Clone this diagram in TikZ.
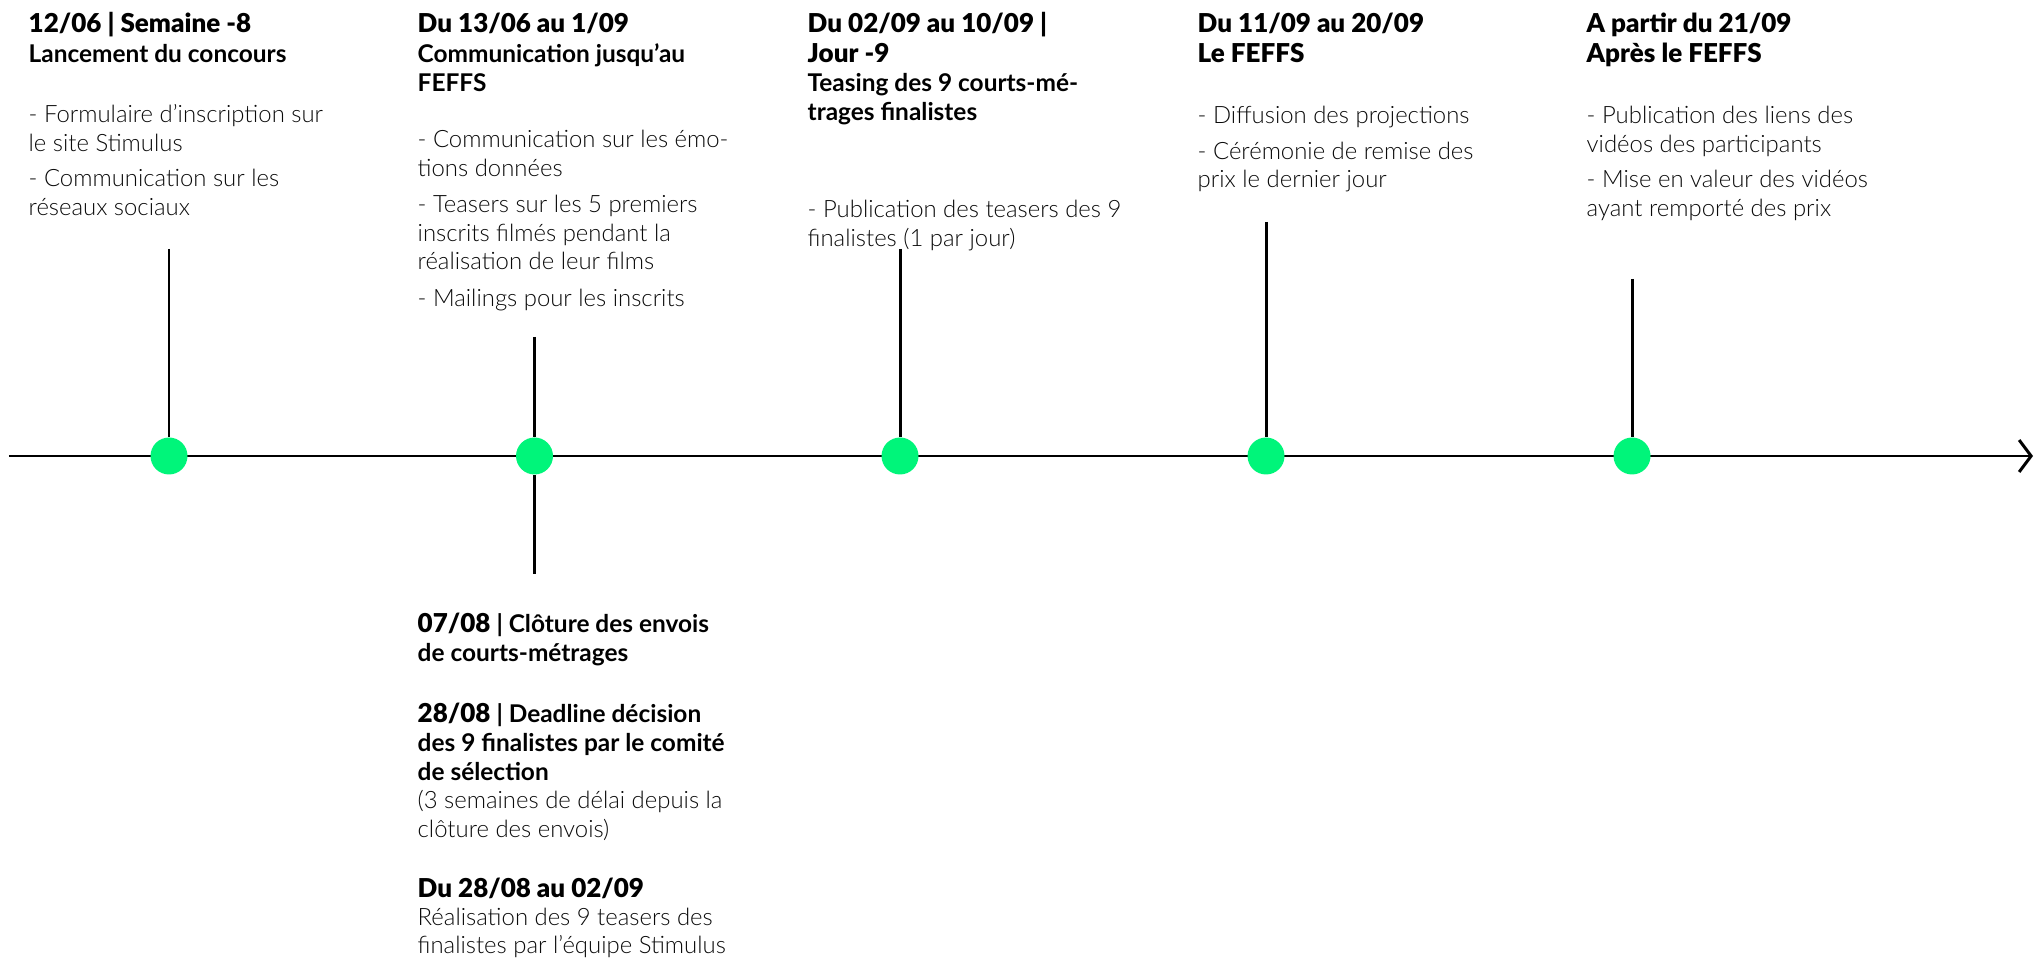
\documentclass[tikz,border=0pt]{standalone}
\usepackage{fontspec}
\setmainfont{Lato}
\newfontfamily\lightfont{Lato Light}
\newfontfamily\blackfont{Lato Black}
\usetikzlibrary{arrows.meta}
\definecolor{vert}{RGB}{0,245,122}
\definecolor{encre}{RGB}{10,10,10}
\newcommand\datefont{\blackfont\fontsize{7.4}{8.3}\selectfont}
\newcommand\titrefont{\bfseries\fontsize{6.95}{8.3}\selectfont}
\newcommand\corpsfont{\lightfont\mdseries\fontsize{6.8}{8.1}\selectfont\color{encre}}
\newcommand\bloc[1]{\parbox[t]{3.6cm}{\raggedright\leavevmode #1}}
\tikzset{
  jalon/.style={circle,fill=vert,minimum size=0.37cm,inner sep=0pt},
  tige/.style={line width=0.85pt,black},
  texte/.style={anchor=base west,inner sep=0pt}
}
\begin{document}
\begin{tikzpicture}
      \useasboundingbox (0,0) rectangle (20.36,-9.62);
      % axe du temps
      \coordinate (debut) at (0.09,-4.56);
      \coordinate (fin) at (20.33,-4.56);
      \draw[tige,-{Straight Barb[length=0.12cm,width=0.32cm]}] (debut) -- (fin);
      % tiges
      \coordinate (t1) at (1.69,-2.49);
      \coordinate (t2) at (5.345,-3.37);
      \coordinate (b2) at (5.345,-5.74);
      \coordinate (t3) at (9.00,-2.49);
      \coordinate (t4) at (12.66,-2.22);
      \coordinate (t5) at (16.32,-2.79);
      \node[jalon] (d1) at (1.69,-4.56) {};
      \node[jalon] (d2) at (5.345,-4.56) {};
      \node[jalon] (d3) at (9.00,-4.56) {};
      \node[jalon] (d4) at (12.66,-4.56) {};
      \node[jalon] (d5) at (16.32,-4.56) {};
      \draw[tige] (t1) -- (d1);
      \draw[tige] (t2) -- (d2);
      \draw[tige] (d2) -- (b2);
      \draw[tige] (t3) -- (d3);
      \draw[tige] (t4) -- (d4);
      \draw[tige] (t5) -- (d5);
      % etape 1
      \node[texte] (h1) at (0.28,-0.33) {\bloc{\datefont 12/06 | Semaine -8\\
        \titrefont Lancement du concours}};
      \node[texte] (c1) at (0.28,-1.23) {\bloc{\corpsfont - Formulaire d’inscription sur\\
        le site Stimulus\\[0.07cm]
        - Communication sur les\\
        réseaux sociaux}};
      % etape 2
      \node[texte] (h2) at (4.17,-0.33) {\bloc{\datefont Du 13/06 au 1/09\\
        \titrefont Communication jusqu’au\\ FEFFS}};
      \node[texte] (c2) at (4.17,-1.48) {\bloc{\corpsfont - Communication sur les émo-\\
        tions données\\[0.08cm]
        - Teasers sur les 5 premiers\\
        inscrits filmés pendant la\\
        réalisation de leur films\\[0.08cm]
        - Mailings pour les inscrits}};
      % etape 2 bis, sous l'axe
      \node[texte] (g1) at (4.17,-6.32) {\bloc{\datefont 07/08 \titrefont| Clôture des envois\\
        de courts-métrages}};
      \node[texte] (g2) at (4.17,-7.22) {\bloc{\datefont 28/08 \titrefont| Deadline décision\\
        des 9 finalistes par le comité\\
        de sélection\\
        \corpsfont (3 semaines de délai depuis la\\
        clôture des envois)}};
      \node[texte] (g3) at (4.17,-8.97) {\bloc{\datefont Du 28/08 au 02/09\\
        \corpsfont Réalisation des 9 teasers des\\
        finalistes par l’équipe Stimulus}};
      % etape 3
      \node[texte] (h3) at (8.07,-0.33) {\bloc{\datefont Du 02/09 au 10/09 |\\
        Jour -9\\
        \titrefont Teasing des 9 courts-mé-\\
        trages finalistes}};
      \node[texte] (c3) at (8.07,-2.18) {\bloc{\corpsfont - Publication des teasers des 9\\
        finalistes (1 par jour)}};
      % etape 4
      \node[texte] (h4) at (11.97,-0.33) {\bloc{\datefont Du 11/09 au 20/09\\
        Le FEFFS}};
      \node[texte] (c4) at (11.97,-1.24) {\bloc{\corpsfont - Diffusion des projections\\[0.07cm]
        - Cérémonie de remise des\\
        prix le dernier jour}};
      % etape 5
      \node[texte] (h5) at (15.86,-0.33) {\bloc{\datefont A partir du 21/09\\
        Après le FEFFS}};
      \node[texte] (c5) at (15.86,-1.24) {\bloc{\corpsfont - Publication des liens des\\
        vidéos des participants\\[0.07cm]
        - Mise en valeur des vidéos\\
        ayant remporté des prix}};
    \end{tikzpicture}
\end{document}
